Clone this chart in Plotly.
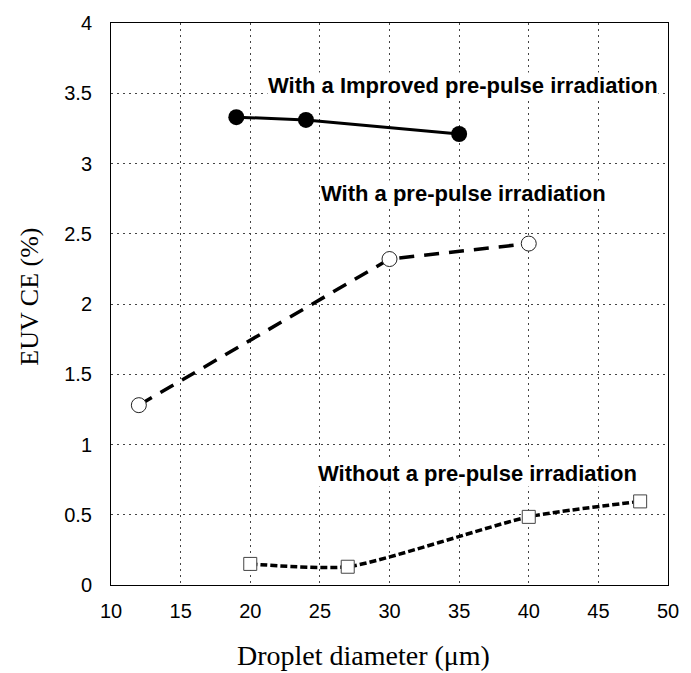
import plotly.graph_objects as go

# Data
improved_x = [19, 24, 35]
improved_y = [3.33, 3.31, 3.21]

prepulse_x = [12, 30, 40]
prepulse_y = [1.28, 2.32, 2.43]

without_x = [20, 27, 40, 48]
without_y = [0.15, 0.13, 0.485, 0.595]

x_ticks = [10, 15, 20, 25, 30, 35, 40, 45, 50]
y_ticks = [0, 0.5, 1, 1.5, 2, 2.5, 3, 3.5, 4]

label_improved = "With a Improved pre-pulse irradiation"
label_prepulse = "With a pre-pulse irradiation"
label_without = "Without a pre-pulse irradiation"

W, H = 691, 673
L, R, T, B = 111, 12, 19, 88
PW, PH = W - L - R, H - T - B


def pxx(p):
    return (p - L) / PW


def pxy(p):
    return (H - B - p) / PH


fig = go.Figure()

fig.add_trace(go.Scatter(
    x=without_x, y=without_y, mode="lines+markers",
    line=dict(color="black", width=3.5, dash="7px,3px", shape="spline", smoothing=0.6),
    marker=dict(symbol="square", size=13, color="white", line=dict(color="#444", width=1)),
    showlegend=False))

fig.add_trace(go.Scatter(
    x=prepulse_x, y=prepulse_y, mode="lines+markers",
    line=dict(color="black", width=3.5, dash="15px,10px"),
    marker=dict(symbol="circle", size=15, color="white", line=dict(color="#222", width=1)),
    showlegend=False))

fig.add_trace(go.Scatter(
    x=improved_x, y=improved_y, mode="lines+markers",
    line=dict(color="black", width=3),
    marker=dict(symbol="circle", size=16, color="black"),
    showlegend=False))

tickfont = dict(family="Liberation Sans, Arial", size=20, color="black")
labfont = dict(family="Liberation Sans, Arial", size=22, color="black")

fig.update_xaxes(range=[10, 50], tickvals=x_ticks, showgrid=True, gridcolor="#444",
                 griddash="2px,4px", gridwidth=1, showline=True, linecolor="black",
                 linewidth=1, mirror=True, zeroline=False, ticks="", tickfont=tickfont,
                 ticklabelstandoff=8)
fig.update_yaxes(range=[0, 4], tickvals=y_ticks, showgrid=True, gridcolor="#444",
                 griddash="2px,4px", gridwidth=1, showline=True, linecolor="black",
                 linewidth=1, mirror=True, zeroline=False, ticks="", tickfont=tickfont,
                 ticklabelstandoff=14)

annos = [
    dict(x=21.2, y=3.555, text=label_improved),
    dict(x=25.0, y=2.79, text=label_prepulse),
    dict(x=24.8, y=0.795, text=label_without),
]
for a in annos:
    fig.add_annotation(x=a["x"], y=a["y"], xref="x", yref="y", text="<b>" + a["text"] + "</b>",
                       showarrow=False, xanchor="left", yanchor="middle", font=labfont,
                       bgcolor="white", borderpad=0)

fig.add_annotation(x=pxx(368), y=pxy(656), xref="paper", yref="paper",
                   text="Droplet diameter (\u03bcm)", showarrow=False, xanchor="center",
                   yanchor="middle", font=dict(family="Liberation Serif, Times New Roman", size=28, color="black"))
fig.add_annotation(x=pxx(27), y=pxy(295), xref="paper", yref="paper",
                   text="EUV CE (%)", showarrow=False, textangle=-90, xanchor="center",
                   yanchor="middle", font=dict(family="Liberation Serif, Times New Roman", size=26, color="black"))

fig.update_layout(width=W, height=H, margin=dict(l=L, r=R, t=T, b=B),
                  plot_bgcolor="white", paper_bgcolor="white")

fig.write_html("out.html")
